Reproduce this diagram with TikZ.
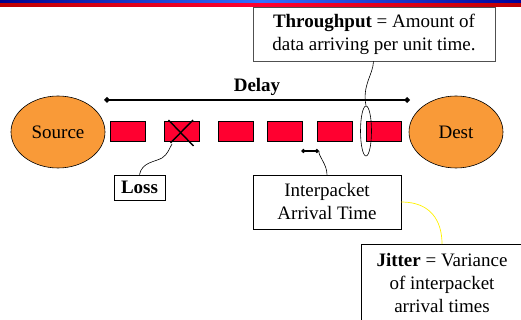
\documentclass[tikz,border=0pt]{standalone}
\usepackage{fontspec}
\setmainfont{Liberation Serif}
\usetikzlibrary{arrows.meta,shapes.geometric}
\definecolor{pkt}{HTML}{FF0030}
\definecolor{endpt}{HTML}{F99A38}
\definecolor{frame}{HTML}{505050}
\tikzset{
  x=1pt,y=1pt,
  packet/.style={draw=black,line width=0.6pt,fill=pkt,minimum width=35pt,minimum height=20pt,inner sep=0pt},
  host/.style={ellipse,draw=black,line width=0.6pt,fill=endpt,minimum width=94pt,minimum height=72pt,inner sep=0pt,font=\fontsize{19}{23}\selectfont},
  note/.style={draw=black,line width=0.8pt,fill=white,align=center,inner sep=0pt,font=\fontsize{19}{23}\selectfont},
  link/.style={black,line width=0.6pt},
  span/.style={black,line width=2pt,{Diamond[length=6pt,width=6pt]}-{Diamond[length=6pt,width=6pt]}}
}
\begin{document}
\begin{tikzpicture}
\useasboundingbox (0,0) rectangle (521,320);
% header rules
\shade[left color=blue!55!black,right color=blue!60!black,middle color=blue!70!cyan!80!white] (0,317.7) rectangle (521,320);
\shade[left color=red!75!black,right color=red!75!black,middle color=pkt] (0,313) rectangle (521,316.7);

% end hosts
\node[host] (src) at (58,188) {Source};
\node[host] (dst) at (456,188) {Dest};

% packets in flight
\foreach \i/\x in {1/127.5,2/181.5,3/235.5,4/284.5,5/334.5,6/383.5}
  \node[packet] (p\i) at (\x,189) {};

% lost packet
\draw[black,line width=1.4pt] (168.5,200) -- (193.5,174);
\draw[black,line width=1.4pt] (193,200) -- (170.5,177);
\coordinate (lossmark) at (172,176);

% delay span
\coordinate (dl) at (104,220);
\coordinate (dr) at (410,220);
\draw[span] (dl) -- (dr);
\node[font=\bfseries\fontsize{19}{23}\selectfont] (delay) at (257,233) {Delay};

% throughput
\node[note,draw=frame,minimum width=242pt,minimum height=54pt] (thr) at (374,286)
  {\textbf{Throughput} = Amount of\\data arriving per unit time.};
\node[ellipse,draw=black,line width=0.6pt,minimum width=11pt,minimum height=50pt,inner sep=0pt] (probe) at (366,189) {};
\draw[link] (thr.south) ++(-0.5,0) .. controls (373,245) and (362,235) .. (probe.north);

% loss
\node[note,minimum width=51pt,minimum height=25pt,font=\bfseries\fontsize{19}{23}\selectfont] (loss) at (139.5,132.5) {Loss};
\draw[link] (loss.north) .. controls (142,158) and (155,158) .. (162,162) .. controls (168,166) and (169,171) .. (lossmark);

% interpacket gap
\coordinate (gl) at (301,169);
\coordinate (gr) at (319,169);
\draw[black,line width=1.6pt,{Diamond[length=4.5pt,width=4.5pt]}-{Diamond[length=4.5pt,width=4.5pt]}] (gl) -- (gr);
\node[note,minimum width=148pt,minimum height=54pt] (iat) at (327,118) {Interpacket\\Arrival Time};
\draw[link] (iat.north) ++(0,0) .. controls (327,156) and (318,164) .. (gr);

% jitter
\node[note,anchor=north west,minimum width=165pt,minimum height=90pt,text depth=0pt] (jit) at (361,76) {};
\node[align=center,font=\fontsize{19}{23}\selectfont,anchor=north] (jtxt) at (442,70)
  {\textbf{Jitter} = Variance\\of interpacket\\arrival times};
\draw[yellow,line width=0.7pt] (iat.east) .. controls (430,118) and (442,100) .. (442,76);
\end{tikzpicture}
\end{document}
